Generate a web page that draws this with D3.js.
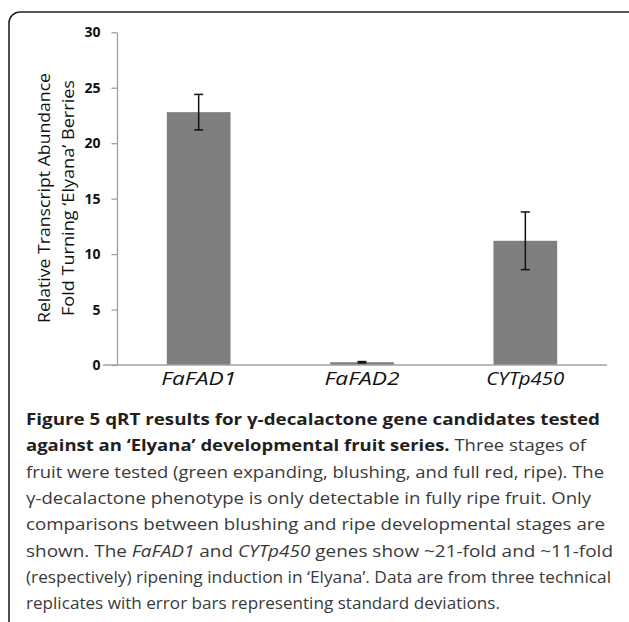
<!DOCTYPE html>
<html>
<head>
<meta charset="utf-8">
<script src="https://cdn.jsdelivr.net/npm/d3@7"></script>
<style>
  html, body { margin: 0; padding: 0; background: #fff; }
  svg { display: block; }
</style>
</head>
<body>
<svg id="chart" width="629" height="622"></svg>
<script>
// ---- data ----
const categories = ["FaFAD1", "FaFAD2", "CYTp450"];
const values = [22.8, 0.25, 11.2];
const errors = [1.6, 0.06, 2.6];
const yTicks = [0, 5, 10, 15, 20, 25, 30];
const yTitleLines = ["Relative Transcript Abundance", "Fold Turning \u2018Elyana\u2019 Berries"];
const captionLines = [
  [{t: "Figure 5 qRT results for \u03b3-decalactone gene candidates tested", b: true}],
  [{t: "against an \u2018Elyana\u2019 developmental fruit series.", b: true}, {t: " Three stages of"}],
  [{t: "fruit were tested (green expanding, blushing, and full red, ripe). The"}],
  [{t: "\u03b3-decalactone phenotype is only detectable in fully ripe fruit. Only"}],
  [{t: "comparisons between blushing and ripe developmental stages are"}],
  [{t: "shown. The "}, {t: "FaFAD1", i: true}, {t: " and "}, {t: "CYTp450", i: true}, {t: " genes show ~21-fold and ~11-fold"}],
  [{t: "(respectively) ripening induction in \u2018Elyana\u2019. Data are from three technical"}],
  [{t: "replicates with error bars representing standard deviations."}]
];
const captionWidths = [574, 560, 578, 565, 579, 587, 585, 474];
const xLabelWidths = [75, 75, 78];

// ---- layout ----
const svg = d3.select("#chart");
const plot = {left: 117, right: 607, top: 32.3, bottom: 365};

// frame
svg.append("rect")
  .attr("x", 9).attr("y", 12)
  .attr("width", 630).attr("height", 700)
  .attr("rx", 11).attr("ry", 11)
  .attr("fill", "none").attr("stroke", "#222").attr("stroke-width", 1.6);

const y = d3.scaleLinear().domain([0, 30]).range([plot.bottom, plot.top]);
const x = d3.scaleBand().domain(categories).range([plot.left, plot.right]).padding(0);
const barW = x.bandwidth() * 0.39;

// y axis
const yAxis = d3.axisLeft(y).tickValues(yTicks).tickSize(5.5).tickPadding(11).tickSizeOuter(0);
const yg = svg.append("g").attr("transform", `translate(${plot.left},0)`).call(yAxis);
yg.attr("font-size", null);
yg.select(".domain").attr("stroke", "#a0a0a0").attr("stroke-width", 1.3);
yg.selectAll(".tick line").attr("stroke", "#a0a0a0").attr("stroke-width", 1.3);
yg.selectAll(".tick text")
  .attr("font-family", "'Open Sans', sans-serif")
  .attr("font-weight", "bold")
  .attr("font-size", 14)
  .attr("fill", "#111");

// bars
svg.append("g").selectAll("rect").data(categories).join("rect")
  .attr("x", d => x(d) + x.bandwidth() / 2 - barW / 2)
  .attr("y", (d, i) => y(values[i]))
  .attr("width", barW)
  .attr("height", (d, i) => y(0) - y(values[i]))
  .attr("fill", "#7f7f7f");

// x axis line
svg.append("line")
  .attr("x1", 103).attr("x2", plot.right)
  .attr("y1", y(0)).attr("y2", y(0))
  .attr("stroke", "#a0a0a0").attr("stroke-width", 1.3);

// error bars
const eg = svg.append("g").attr("stroke", "#111").attr("stroke-width", 1.5);
categories.forEach((c, i) => {
  const cx = x(c) + x.bandwidth() / 2;
  const hi = y(values[i] + errors[i]), lo = y(values[i] - errors[i]);
  eg.append("line").attr("x1", cx).attr("x2", cx).attr("y1", hi).attr("y2", lo);
  eg.append("line").attr("x1", cx - 4.5).attr("x2", cx + 4.5).attr("y1", hi).attr("y2", hi);
  eg.append("line").attr("x1", cx - 4.5).attr("x2", cx + 4.5).attr("y1", lo).attr("y2", lo);
});

// x category labels
svg.append("g").selectAll("text").data(categories).join("text")
  .attr("x", d => x(d) + x.bandwidth() / 2)
  .attr("y", 385)
  .attr("text-anchor", "middle")
  .attr("font-family", "'Open Sans', sans-serif")
  .attr("font-style", "italic")
  .attr("font-size", 19)
  .attr("fill", "#111")
  .attr("textLength", (d, i) => xLabelWidths[i])
  .attr("lengthAdjust", "spacingAndGlyphs")
  .text(d => d);

// y title
const ytLens = [250, 236];
const ytX = [49.5, 73.5];
yTitleLines.forEach((line, i) => {
  svg.append("text")
    .attr("transform", `translate(${ytX[i]},198) rotate(-90)`)
    .attr("text-anchor", "middle")
    .attr("font-family", "'Open Sans', sans-serif")
    .attr("font-size", 16.5)
    .attr("fill", "#111")
    .attr("textLength", ytLens[i])
    .attr("lengthAdjust", "spacingAndGlyphs")
    .text(line);
});

// caption
captionLines.forEach((parts, i) => {
  const t = svg.append("text")
    .attr("x", 26)
    .attr("y", 425 + i * 26.3)
    .attr("font-family", "'Open Sans', sans-serif")
    .attr("font-size", 16.6)
    .attr("fill", "#3a3a3a")
    .attr("textLength", captionWidths[i])
    .attr("lengthAdjust", "spacingAndGlyphs");
  parts.forEach(p => {
    const ts = t.append("tspan").text(p.t);
    if (p.b) ts.attr("font-weight", "bold").attr("fill", "#231f20");
    if (p.i) ts.attr("font-style", "italic");
  });
});
</script>
</body>
</html>
